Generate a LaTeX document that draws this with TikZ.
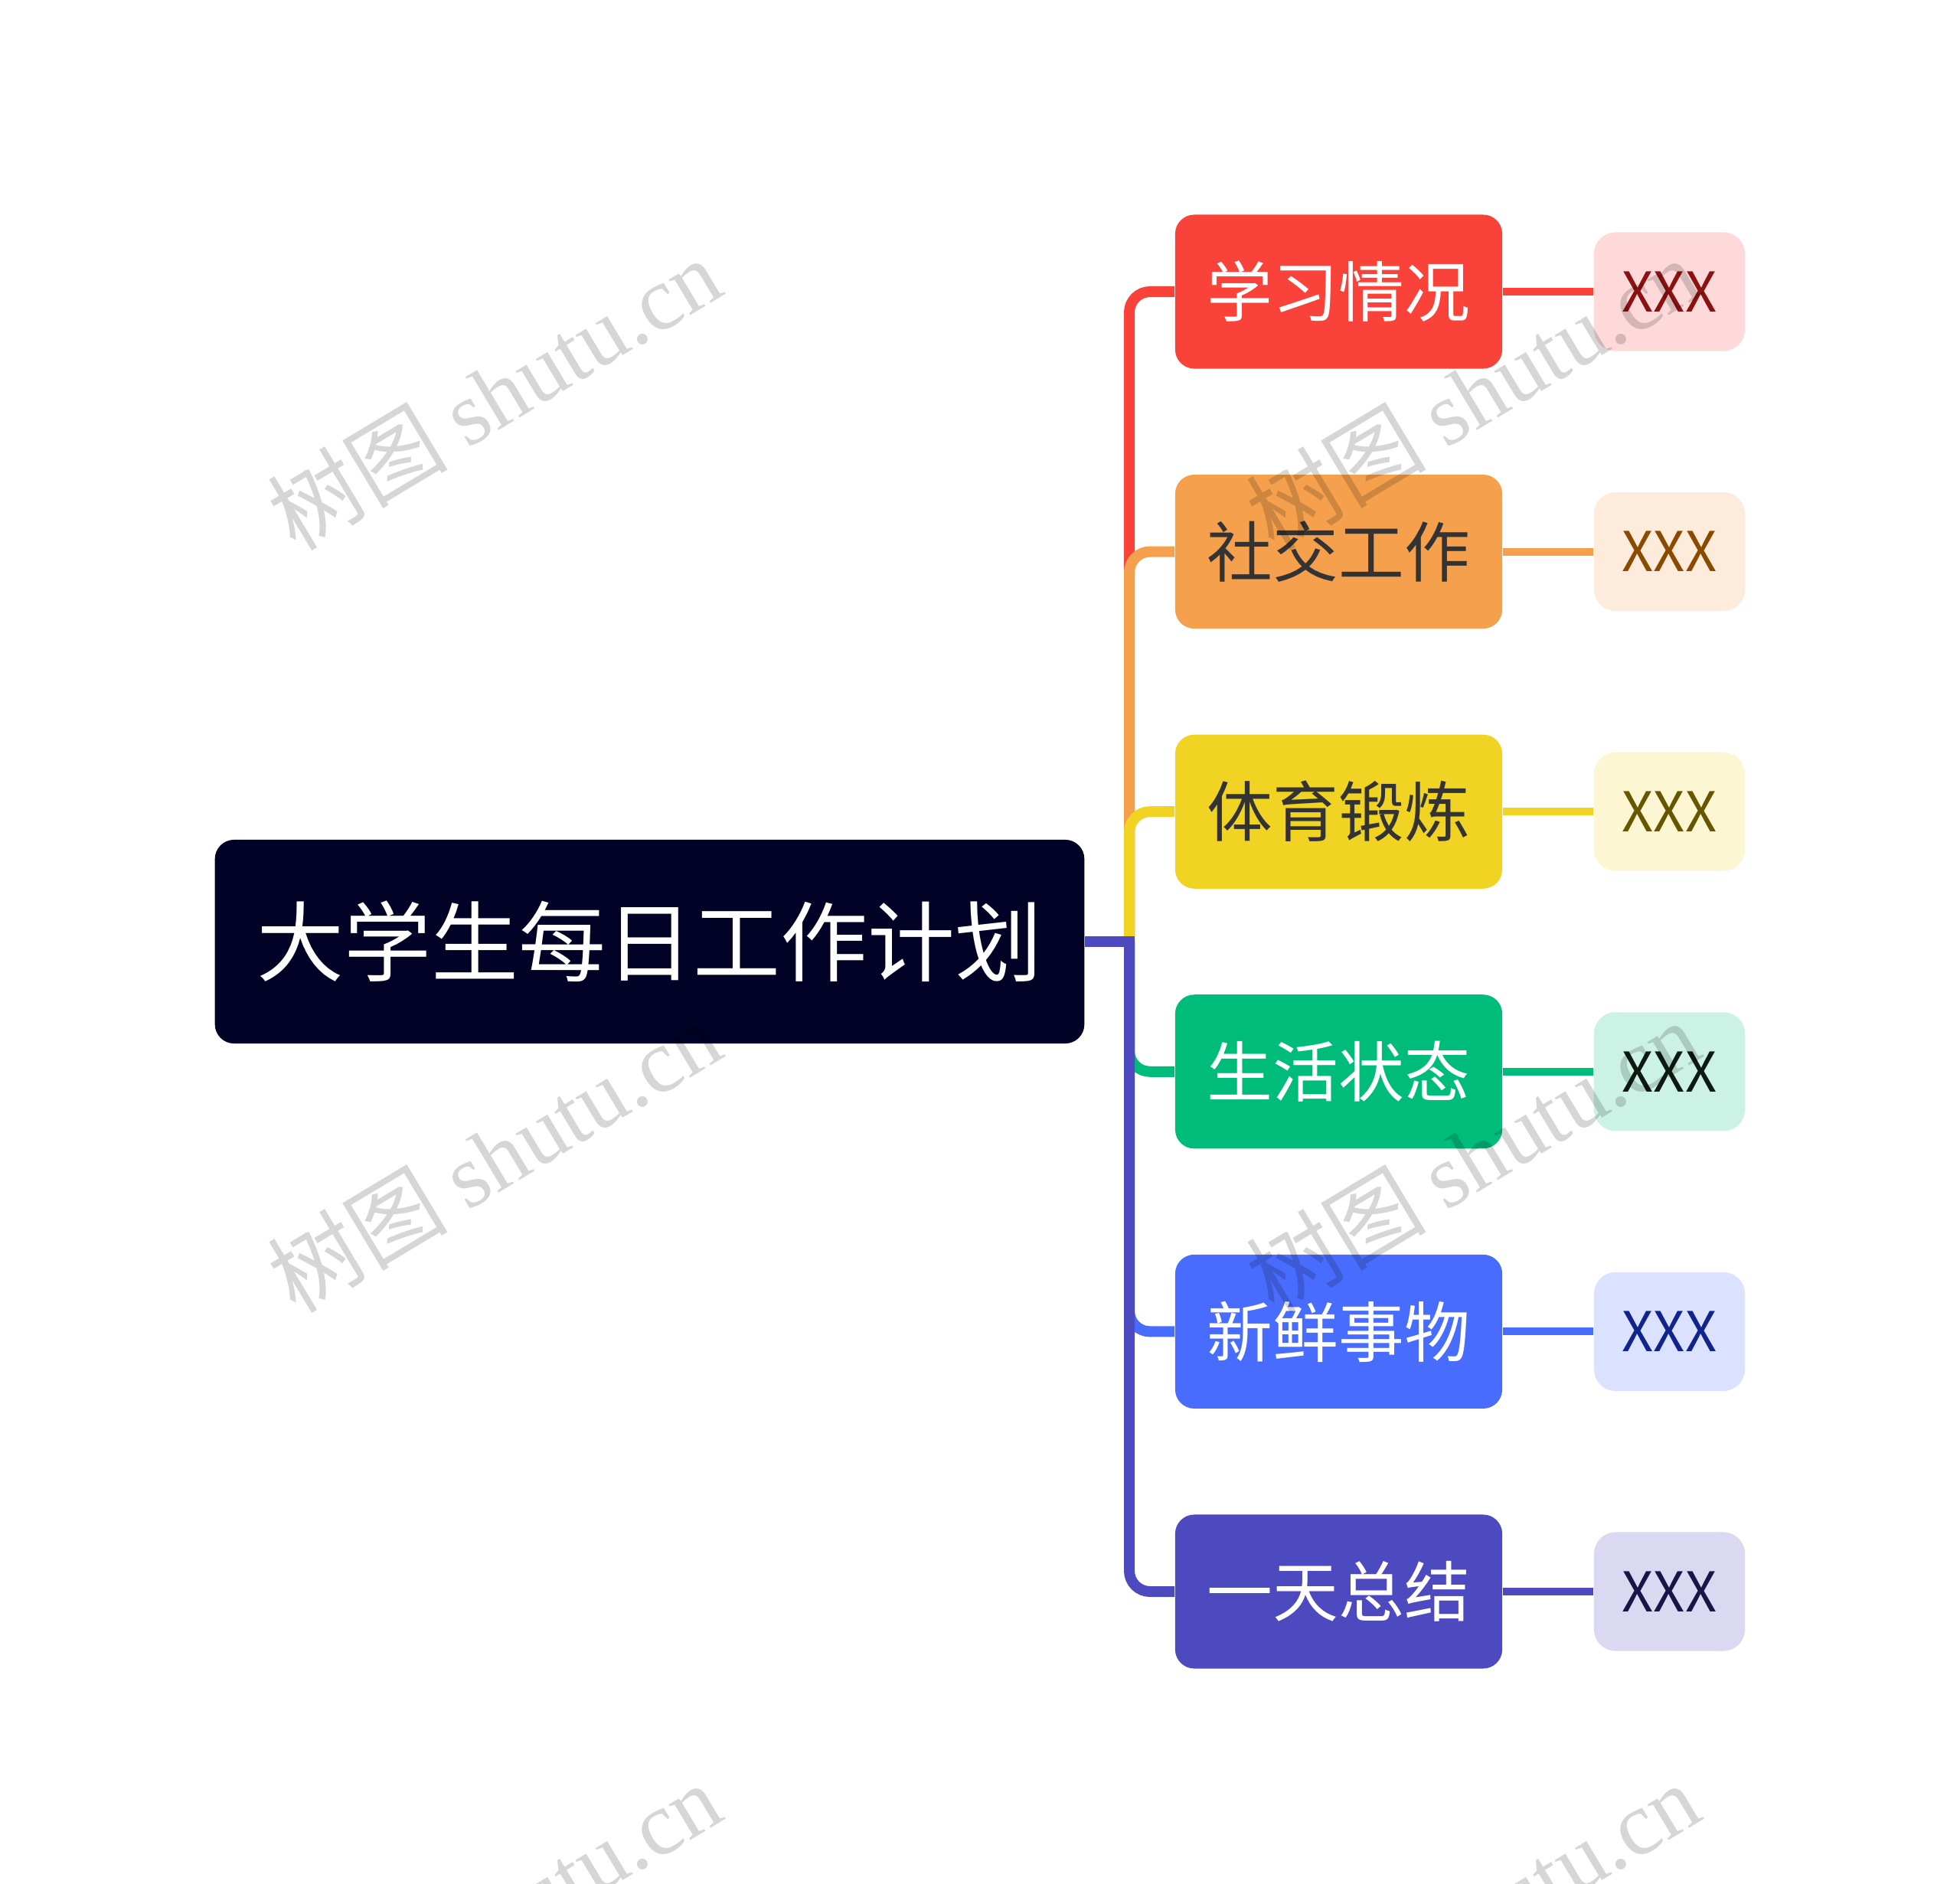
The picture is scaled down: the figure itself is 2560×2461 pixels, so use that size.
\documentclass[tikz,border=0pt]{standalone}
\usepackage{fontspec}
\setmainfont{Noto Sans CJK SC}
\newfontfamily\wmlatin{Liberation Serif}
\newfontfamily\wmcjk{Noto Sans CJK SC}
\definecolor{cmain}{HTML}{010226}
\definecolor{cred}{HTML}{F9433A}
\definecolor{corange}{HTML}{F4A04C}
\definecolor{cyellow}{HTML}{F0D323}
\definecolor{cgreen}{HTML}{00BC7B}
\definecolor{cblue}{HTML}{486CFD}
\definecolor{cpurple}{HTML}{4C4ABE}
\definecolor{lred}{HTML}{FDDAD9}
\definecolor{lorange}{HTML}{FDECDB}
\definecolor{lyellow}{HTML}{FCF6D3}
\definecolor{lgreen}{HTML}{CCF2E5}
\definecolor{lblue}{HTML}{DAE2FF}
\definecolor{lpurple}{HTML}{DBD9F2}
\definecolor{tred}{HTML}{8C1212}
\definecolor{torange}{HTML}{8A4A00}
\definecolor{tyellow}{HTML}{665600}
\definecolor{tgreen}{HTML}{0D1A12}
\definecolor{tblue}{HTML}{10248C}
\definecolor{tpurple}{HTML}{181646}
\definecolor{darktext}{HTML}{333333}
\begin{document}
\begin{tikzpicture}[x=0.01cm,y=-0.01cm,
  mainbox/.style={rectangle, rounded corners=0.25cm, fill=cmain, text=white,
    minimum width=11.35cm, minimum height=2.66cm, inner sep=0pt,
    font=\fontsize{32.4pt}{36pt}\selectfont},
  topic/.style={rectangle, rounded corners=0.25cm, minimum width=4.27cm,
    minimum height=2.01cm, inner sep=0pt, font=\fontsize{24.4pt}{28pt}\selectfont},
  leaf/.style={rectangle, rounded corners=0.28cm, minimum width=1.97cm,
    minimum height=1.55cm, inner sep=0pt, font=\fontsize{20.4pt}{23pt}\selectfont},
  branch/.style={line width=0.14cm, rounded corners=0.27cm},
  twig/.style={line width=0.10cm},
  wm/.style={rotate=31, text=black, text opacity=0.16, inner sep=0pt,
    font=\fontsize{33.5pt}{38pt}\selectfont}
]
\useasboundingbox[fill=white] (0,0) rectangle (2560,2461);

% root
\node[mainbox] (main) at (848.5,1230) {大学生每日工作计划};
\coordinate (J) at (1475,1230);

% topics
\node[topic, fill=cred, text=white]        (t1) at (1748.5,381)    {学习情况};
\node[topic, fill=corange, text=darktext]  (t2) at (1748.5,720.6)  {社交工作};
\node[topic, fill=cyellow, text=darktext]  (t3) at (1748.5,1060.2) {体育锻炼};
\node[topic, fill=cgreen, text=white]      (t4) at (1748.5,1399.8) {生活状态};
\node[topic, fill=cblue, text=white]       (t5) at (1748.5,1739.4) {新鲜事物};
\node[topic, fill=cpurple, text=white]     (t6) at (1748.5,2079)   {一天总结};

% leaves
\node[leaf, fill=lred, text=tred]          (l1) at (2180.5,381)    {XXX};
\node[leaf, fill=lorange, text=torange]    (l2) at (2180.5,720.6)  {XXX};
\node[leaf, fill=lyellow, text=tyellow]    (l3) at (2180.5,1060.2) {XXX};
\node[leaf, fill=lgreen, text=tgreen]      (l4) at (2180.5,1399.8) {XXX};
\node[leaf, fill=lblue, text=tblue]        (l5) at (2180.5,1739.4) {XXX};
\node[leaf, fill=lpurple, text=tpurple]    (l6) at (2180.5,2079)   {XXX};

% branches
\draw[branch, cred]    (J) |- (t1.west);
\draw[branch, corange] (J) |- (t2.west);
\draw[branch, cyellow] (J) |- (t3.west);
\draw[branch, cgreen]  (J) |- (t4.west);
\draw[branch, cblue]   (J) |- (t5.west);
\draw[branch, cpurple] (J) |- (t6.west);
\draw[line width=0.14cm, cpurple] (main.east) -- ([xshift=0.07cm]J);

% twigs
\draw[twig, cred]    (t1.east) -- (l1.west);
\draw[twig, corange] (t2.east) -- (l2.west);
\draw[twig, cyellow] (t3.east) -- (l3.west);
\draw[twig, cgreen]  (t4.east) -- (l4.west);
\draw[twig, cblue]   (t5.east) -- (l5.west);
\draw[twig, cpurple] (t6.east) -- (l6.west);

% watermarks
\begin{scope}
\clip (0,0) rectangle (2560,2461);
\foreach \wx/\wy [count=\i] in {645/514, 1923/514, 645/1510, 1923/1510, 645/2506, 1923/2506}
  \node[wm] (wm\i) at (\wx,\wy) {{\wmcjk 树图} {\wmlatin shutu.cn}};
\end{scope}
\end{tikzpicture}
\end{document}
